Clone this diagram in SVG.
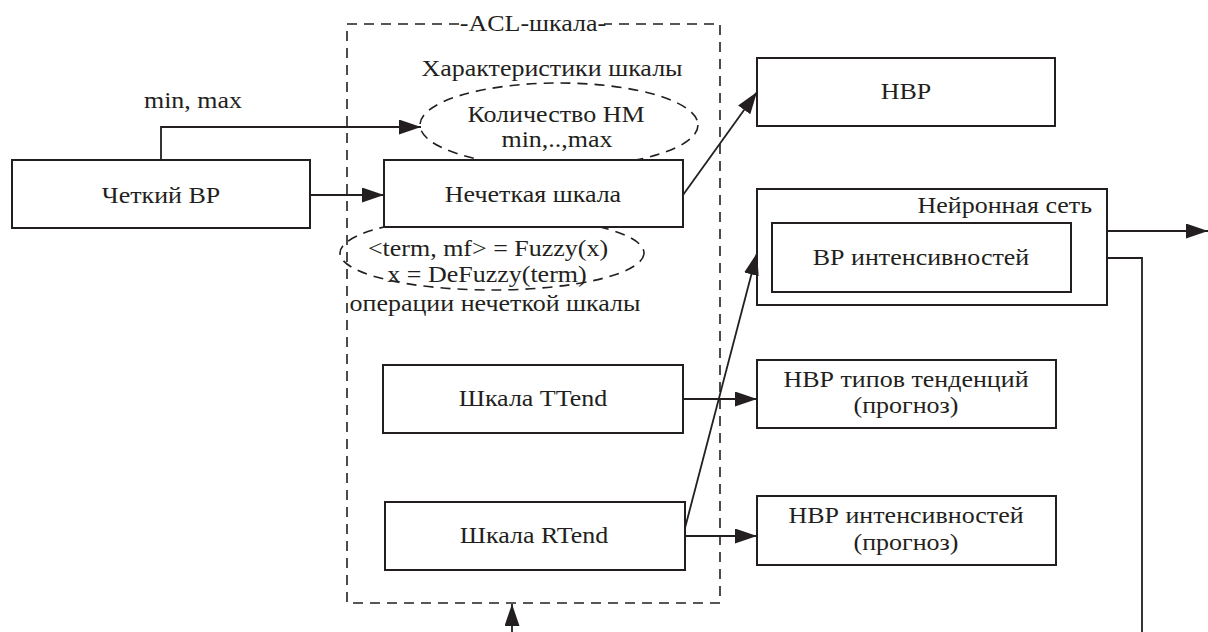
<svg xmlns="http://www.w3.org/2000/svg" width="1208" height="632" viewBox="0 0 1208 632">
  <style>
    text { font-family: "Liberation Serif", "DejaVu Serif", serif; font-size: 23px; fill: #231f20; }
    .mid { text-anchor: middle; }
    .box { fill: #ffffff; stroke: #231f20; stroke-width: 2; }
    .dash { fill: none; stroke: #231f20; stroke-width: 1.6; stroke-dasharray: 10 7; }
    .wire { fill: none; stroke: #231f20; stroke-width: 1.8; }
  </style>
  <defs>
    <marker id="arrow" viewBox="0 0 22 15" refX="22" refY="7.5" markerWidth="22" markerHeight="15" markerUnits="userSpaceOnUse" orient="auto">
      <path d="M0,0 L22,7.5 L0,15 z" fill="#231f20"/>
    </marker>
  </defs>

  <rect width="1208" height="632" fill="#ffffff"/>

  <!-- labels use a slightly widened serif face: translate to anchor, then scale x -->

  <!-- ACL scale frame -->
  <g id="acl-scale">
    <rect class="dash" x="347" y="24" width="373" height="579"/>
    <rect x="462" y="13" width="142" height="21" fill="#ffffff"/>
    <text class="mid" transform="translate(533,31) scale(1.13,1)">-ACL-шкала-</text>
  </g>

  <!-- scale characteristics -->
  <g id="characteristics">
    <text class="mid" transform="translate(552,76) scale(1.13,1)">Характеристики шкалы</text>
    <ellipse class="dash" cx="559" cy="125" rx="139" ry="42"/>
    <text class="mid" transform="translate(556,122) scale(1.13,1)">Количество НМ</text>
    <text class="mid" transform="translate(557,147) scale(1.13,1)">min,..,max</text>
  </g>

  <!-- fuzzy scale operations -->
  <g id="operations">
    <ellipse class="dash" cx="492" cy="253" rx="152" ry="37"/>
    <text class="mid" transform="translate(488,256) scale(1.13,1)">&lt;term, mf&gt; = Fuzzy(x)</text>
    <text class="mid" transform="translate(487,282) scale(1.13,1)">x = DeFuzzy(term)</text>
    <text class="mid" transform="translate(495,311) scale(1.13,1)">операции нечеткой шкалы</text>
  </g>

  <g id="crisp-series">
    <rect class="box" x="12" y="160" width="298" height="68"/>
    <text class="mid" transform="translate(161,203) scale(1.13,1)">Четкий ВР</text>
  </g>

  <g id="fuzzy-scale">
    <rect class="box" x="384" y="160" width="299" height="67"/>
    <text class="mid" transform="translate(533,202) scale(1.13,1)">Нечеткая шкала</text>
  </g>

  <g id="scale-ttend">
    <rect class="box" x="383" y="365" width="300" height="68"/>
    <text class="mid" transform="translate(533,406) scale(1.13,1)">Шкала TTend</text>
  </g>

  <g id="scale-rtend">
    <rect class="box" x="385" y="502" width="300" height="68"/>
    <text class="mid" transform="translate(534,543) scale(1.13,1)">Шкала RTend</text>
  </g>

  <g id="fuzzy-series">
    <rect class="box" x="757" y="58" width="298" height="68"/>
    <text class="mid" transform="translate(906,99) scale(1.13,1)">НВР</text>
  </g>

  <g id="neural-net">
    <rect class="box" x="757" y="189" width="350" height="116"/>
    <text text-anchor="end" transform="translate(1092,213) scale(1.13,1)">Нейронная сеть</text>
    <rect class="box" x="772" y="223" width="299" height="69"/>
    <text class="mid" transform="translate(921,265) scale(1.13,1)">ВР интенсивностей</text>
  </g>

  <g id="trend-types-forecast">
    <rect class="box" x="757" y="360" width="299" height="68"/>
    <text class="mid" transform="translate(906,387) scale(1.13,1)">НВР типов тенденций</text>
    <text class="mid" transform="translate(906,413) scale(1.13,1)">(прогноз)</text>
  </g>

  <g id="intensity-forecast">
    <rect class="box" x="757" y="496" width="299" height="69"/>
    <text class="mid" transform="translate(906,523) scale(1.13,1)">НВР интенсивностей</text>
    <text class="mid" transform="translate(906,550) scale(1.13,1)">(прогноз)</text>
  </g>

  <!-- connectors -->
  <g id="connectors">
    <path class="wire" d="M161,160 V127 H421" marker-end="url(#arrow)"/>
    <text class="mid" transform="translate(193,108) scale(1.13,1)">min, max</text>
    <path class="wire" d="M310,195 H384" marker-end="url(#arrow)"/>
    <path class="wire" d="M683,195 L757,92" marker-end="url(#arrow)"/>
    <path class="wire" d="M683,399 H757" marker-end="url(#arrow)"/>
    <path class="wire" d="M685,528 L757,253" marker-end="url(#arrow)"/>
    <path class="wire" d="M685,536 H757" marker-end="url(#arrow)"/>
    <path class="wire" d="M1107,231 H1208" marker-end="url(#arrow)"/>
    <path class="wire" d="M1107,258 H1142 V632"/>
    <path class="wire" d="M512,632 V604" marker-end="url(#arrow)"/>
  </g>
</svg>
